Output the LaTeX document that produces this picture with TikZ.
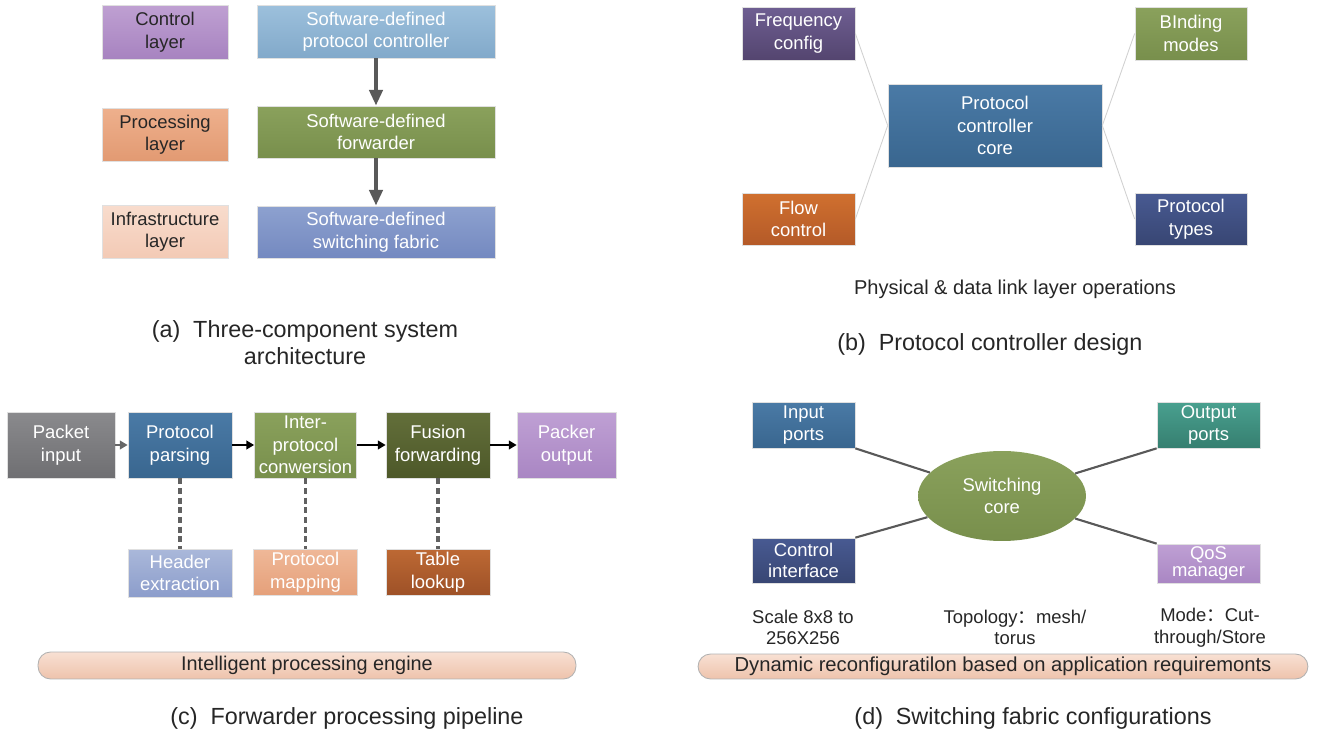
\documentclass[tikz,border=0pt]{standalone}
\usepackage{fontspec}
\setmainfont{Liberation Sans}
\newfontfamily\cjk{Noto Sans CJK SC}
\usetikzlibrary{arrows.meta,shapes.geometric}

\definecolor{txt}{HTML}{262626}
\definecolor{purT}{HTML}{BFA0D2}\definecolor{purB}{HTML}{A783C0}
\definecolor{lbuT}{HTML}{9CC0DC}\definecolor{lbuB}{HTML}{82A9CA}
\definecolor{oraT}{HTML}{EEB08D}\definecolor{oraB}{HTML}{E29A72}
\definecolor{grnT}{HTML}{8AA15C}\definecolor{grnB}{HTML}{788F4C}
\definecolor{pchT}{HTML}{F8DCCD}\definecolor{pchB}{HTML}{F3CAB5}
\definecolor{perT}{HTML}{8DA1CF}\definecolor{perB}{HTML}{7489C0}
\definecolor{vioT}{HTML}{6E5E92}\definecolor{vioB}{HTML}{54456F}
\definecolor{stlT}{HTML}{4A7AA6}\definecolor{stlB}{HTML}{39668F}
\definecolor{rstT}{HTML}{D0702F}\definecolor{rstB}{HTML}{B45A28}
\definecolor{navT}{HTML}{485A92}\definecolor{navB}{HTML}{384673}
\definecolor{gryT}{HTML}{8A8A8D}\definecolor{gryB}{HTML}{6F6F72}
\definecolor{olvT}{HTML}{636F3A}\definecolor{olvB}{HTML}{4D5829}
\definecolor{lavT}{HTML}{BFA0D4}\definecolor{lavB}{HTML}{A986C3}
\definecolor{hdrT}{HTML}{AAB8DA}\definecolor{hdrB}{HTML}{8C9DCB}
\definecolor{salT}{HTML}{EFB898}\definecolor{salB}{HTML}{E5A07A}
\definecolor{brnT}{HTML}{BD6934}\definecolor{brnB}{HTML}{9E5127}
\definecolor{telT}{HTML}{49A08F}\definecolor{telB}{HTML}{367F70}
\definecolor{barT}{HTML}{F8E0D3}\definecolor{barB}{HTML}{EEC3AC}

\tikzset{
  box/.style 2 args={draw=black!12, line width=0.4pt, top color=#1, bottom color=#2,
    text=white, align=center, inner sep=0pt, font=\fontsize{10.5}{12.8}\selectfont},
  bar/.style={draw=black!30, line width=0.5pt, rounded corners=0.25cm, top color=barT,
    bottom color=barB, text=txt, inner sep=0pt, font=\fontsize{11}{13}\selectfont},
  subcap/.style={text=txt, align=center, font=\fontsize{13.3}{15.5}\selectfont},
  note/.style={text=txt, align=center, font=\fontsize{10.5}{12.3}\selectfont},
  flow/.style={-{Triangle[length=9pt,width=7.5pt]}, line width=2.3pt, draw=black!65},
  pipe/.style={-{Triangle[length=4.5pt,width=5pt]}, line width=1.3pt, draw=black},
  dots/.style={draw=black!62, line width=2.2pt, dash pattern=on 3.5pt off 2pt},
  spoke/.style={draw=black!65, line width=1.2pt},
  faint/.style={draw=black!18, line width=0.5pt}
}

\begin{document}
\begin{tikzpicture}[x=0.02cm,y=-0.02cm]
  \useasboundingbox (0,0) rectangle (1320,736);

  % (a) three layers
  \node [box={purT}{purB}, text=txt, minimum width=2.52cm, minimum height=1.08cm] (CL) at (165,32) {Control\\layer};
  \node [box={oraT}{oraB}, text=txt, minimum width=2.52cm, minimum height=1.06cm] (PL) at (165,134.5) {Processing\\layer};
  \node [box={pchT}{pchB}, text=txt, minimum width=2.52cm, minimum height=1.06cm] (IL) at (165,231.5) {Infrastructure\\layer};
  \node [box={lbuT}{lbuB}, minimum width=4.76cm, minimum height=1.06cm] (SC) at (376,31.5) {Software-defined\\protocol controller};
  \node [box={grnT}{grnB}, minimum width=4.76cm, minimum height=1.04cm] (SF) at (376,132) {Software-defined\\forwarder};
  \node [box={perT}{perB}, minimum width=4.76cm, minimum height=1.04cm] (SS) at (376,232) {Software-defined\\switching fabric};
  \draw [flow] (SC) -- (SF);
  \draw [flow] (SF) -- (SS);
  \node [subcap] (CA) at (305,343) {(a)\hspace{0.55em}Three-component system\\architecture};

  % (b) protocol controller
  \node [box={stlT}{stlB}, minimum width=4.28cm, minimum height=1.66cm] (PC) at (995,125.5) {Protocol\\controller\\core};
  \node [box={vioT}{vioB}, minimum width=2.26cm, minimum height=1.06cm] (FQ) at (798.5,33.5) {Frequency\\config};
  \node [box={rstT}{rstB}, minimum width=2.26cm, minimum height=1.04cm] (FC) at (798.5,219) {Flow\\control};
  \node [box={grnT}{grnB}, minimum width=2.24cm, minimum height=1.06cm] (BM) at (1191,33.5) {BInding\\modes};
  \node [box={navT}{navB}, minimum width=2.24cm, minimum height=1.04cm] (PT) at (1191,219) {Protocol\\types};
  \draw [faint] (FQ.east) -- (PC.west);
  \draw [faint] (FC.east) -- (PC.west);
  \draw [faint] (BM.west) -- (PC.east);
  \draw [faint] (PT.west) -- (PC.east);
  \node [note, font=\fontsize{11.4}{13}\selectfont] (PH) at (1015,289) {Physical \& data link layer operations};
  \node [subcap] (CB) at (990,344) {(b)\hspace{0.55em}Protocol controller design};

  % (c) pipeline
  \node [box={gryT}{gryB}, minimum width=2.16cm, minimum height=1.32cm] (PI) at (61,445) {Packet\\input};
  \node [box={stlT}{stlB}, minimum width=2.08cm, minimum height=1.32cm] (PP) at (180,445) {Protocol\\parsing};
  \node [box={grnT}{grnB}, minimum width=2.04cm, minimum height=1.32cm] (IP) at (305.5,445) {Inter-\\protocol\\conwersion};
  \node [box={olvT}{olvB}, minimum width=2.08cm, minimum height=1.32cm] (FF) at (438,445) {Fusion\\forwarding};
  \node [box={lavT}{lavB}, minimum width=1.98cm, minimum height=1.32cm] (PO) at (566.5,445) {Packer\\output};
  \node [box={hdrT}{hdrB}, minimum width=2.08cm, minimum height=0.96cm] (HE) at (180,573) {Header\\extraction};
  \node [box={salT}{salB}, minimum width=2.08cm, minimum height=0.92cm] (PM) at (305.5,572) {Protocol\\mapping};
  \node [box={brnT}{brnB}, minimum width=2.08cm, minimum height=0.92cm] (TL) at (438,572) {Table\\lookup};
  \draw [pipe, draw=black!60] (PI) -- (PP);
  \draw [pipe] (PP) -- (IP);
  \draw [pipe] (IP) -- (FF);
  \draw [pipe] (FF) -- (PO);
  \draw [dots] (PP) -- (HE);
  \draw [dots] (IP) -- (PM);
  \draw [dots] (FF) -- (TL);
  \node [bar, minimum width=10.76cm, minimum height=0.54cm, font=\fontsize{11.3}{13}\selectfont] (IE) at (307,665.5) {Intelligent processing engine};
  \node [subcap] (CC) at (347,718) {(c)\hspace{0.55em}Forwarder processing pipeline};

  % (d) switching fabric
  \node [box={grnT}{grnB}, ellipse, draw=none, minimum width=3.36cm, minimum height=1.8cm] (SW) at (1002,496) {Switching\\core};
  \node [box={stlT}{stlB}, minimum width=2.06cm, minimum height=0.92cm] (IN) at (803.5,425) {Input\\ports};
  \node [box={telT}{telB}, minimum width=2.06cm, minimum height=0.92cm] (OU) at (1208.5,425) {Output\\ports};
  \node [box={navT}{navB}, minimum width=2.06cm, minimum height=0.9cm, font=\fontsize{10.5}{11.8}\selectfont] (CI) at (803.5,560.5) {Control\\interface};
  \node [box={lavT}{lavB}, minimum width=2.06cm, minimum height=0.78cm, font=\fontsize{10.5}{9.8}\selectfont] (QM) at (1208.5,563.5) {QoS\\manager};
  \draw [spoke] (IN.south east) -- (SW);
  \draw [spoke] (OU.south west) -- (SW);
  \draw [spoke] (CI.north east) -- (SW);
  \draw [spoke] (QM.north west) -- (SW);
  \node [note] (SX) at (803,627.5) {Scale 8x8 to\\256X256};
  \node [note] (TP) at (1015,627.5) {Topology{\cjk ：}mesh/\\torus};
  \node [note] (MD) at (1210,627.5) {Mode{\cjk ：}Cut-\\through/Store};
  \node [bar, minimum width=12.2cm, minimum height=0.5cm, font=\fontsize{11.5}{13}\selectfont] (DR) at (1003,666.5) {Dynamic reconfiguratilon based on application requiremonts};
  \node [subcap] (CD) at (1033,718) {(d)\hspace{0.55em}Switching fabric configurations};
\end{tikzpicture}
\end{document}
